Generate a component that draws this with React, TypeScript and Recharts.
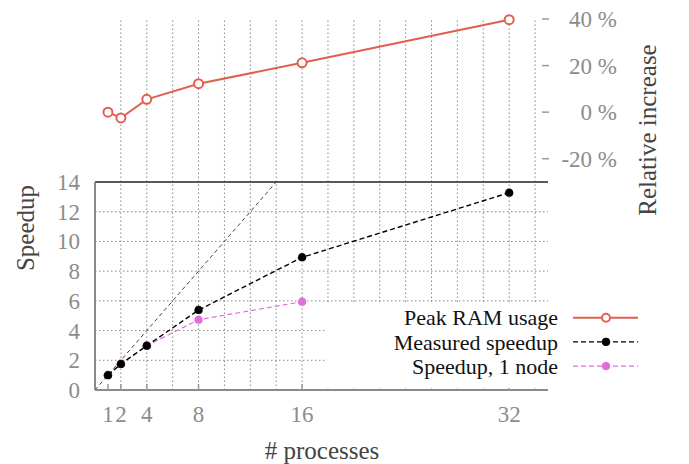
import { Label, Legend, Line, LineChart, ReferenceLine, XAxis, YAxis } from "recharts";

// x positions (# processes)
const procs = [1, 2, 4, 8, 16, 32];
const peakRam = [0, -2.5, 5.5, 12.2, 21.2, 39.7];
const measured = [1.0, 1.75, 2.98, 5.38, 8.93, 13.28];
const oneNodeProcs = [1, 2, 4, 8, 16];
const oneNode = [1.0, 1.75, 2.98, 4.73, 5.94];
const idealX = [0, 14];
const idealY = [0, 14];

const xTicks = [1, 2, 4, 8, 16, 32];
const gridX = [2, 4, 6, 8, 10, 12, 14, 16, 18, 20, 22, 24, 26, 28, 30, 32, 34];
const speedTicks = [0, 2, 4, 6, 8, 10, 12, 14];
const gridY = [2, 4, 6, 8, 10, 12];
const ramTicks = [-20, 0, 20, 40];

const ramData = procs.map((x, i) => ({ x, y: peakRam[i] }));
const measuredData = procs.map((x, i) => ({ x, y: measured[i] }));
const oneNodeData = oneNodeProcs.map((x, i) => ({ x, y: oneNode[i] }));
const idealData = idealX.map((x, i) => ({ x, y: idealY[i] }));

const FONT = "Liberation Serif, Times New Roman, DejaVu Serif, serif";
const RED = "#e0604f";
const PINK = "#e070d8";
const AXIS = "#8a8a8a";
const TICK = "#8c8c8c";

const txt = (size: number, fill: string) => ({ fontFamily: FONT, fontSize: size, fill });

const RightTick = (p: any) => (
  <g>
    <line x1={p.x - 6} x2={p.x + 1} y1={p.y} y2={p.y} stroke="#999" strokeWidth={1.5} />
    <text x={p.x + 69} y={p.y} dy="0.35em" textAnchor="end" style={txt(23, TICK)}>
      {p.payload.value} %
    </text>
  </g>
);

const BottomTick = (p: any) => (
  <g>
    <line x1={p.x} x2={p.x} y1={p.y - 6} y2={p.y} stroke="#999" strokeWidth={1.5} />
    <text x={p.x} y={p.y + 24} dy="0.35em" textAnchor="middle" style={txt(23, TICK)}>
      {p.payload.value}
    </text>
  </g>
);

const LeftTick = (p: any) => (
  <text x={p.x - 15} y={p.y} dy="0.35em" textAnchor="end" style={txt(23, TICK)}>
    {p.payload.value}
  </text>
);

const legendRows = [
  { name: "Peak RAM usage", color: RED, dash: undefined, open: true },
  { name: "Measured speedup", color: "#000", dash: "5 3", open: false },
  { name: "Speedup, 1 node", color: PINK, dash: "5 3", open: false },
];

const LegendBox = () => (
  <div style={{ background: "#fff", width: 320, height: 84 }}>
    <svg width={320} height={84} style={{ overflow: "visible" }}>
      {legendRows.map((r, i) => {
        const y = 13.7 + i * 24.2;
        return (
          <g key={r.name}>
            <text x={231} y={y} dy="0.35em" textAnchor="end" style={txt(22, "#111")}>
              {r.name}
            </text>
            <line x1={246} x2={311} y1={y} y2={y} stroke={r.color} strokeWidth={r.open ? 2 : 1.4} strokeDasharray={r.dash} />
            <circle cx={279} cy={y} r={r.open ? 4 : 3.8} fill={r.open ? "#fff" : r.color} stroke={r.color} strokeWidth={r.open ? 2 : 1} />
          </g>
        );
      })}
    </svg>
  </div>
);

export default function App() {
  return (
    <div style={{ position: "absolute", left: 0, top: 0, width: 689, height: 464, background: "#fff" }}>
      {/* top panel: relative RAM increase */}
      <div style={{ position: "absolute", left: 0, top: 0 }}>
        <LineChart width={689} height={464} margin={{ top: 19, right: 0, bottom: 282, left: 95 }}>
          <XAxis type="number" dataKey="x" domain={[0, 35]} hide />
          <YAxis
            yAxisId="l"
            type="number"
            domain={[-30, 40]}
            width={0}
            tick={false}
            tickLine={false}
            axisLine={{ stroke: AXIS, strokeWidth: 2 }}
          />
          <YAxis
            yAxisId="r"
            orientation="right"
            type="number"
            domain={[-30, 40]}
            ticks={ramTicks}
            interval={0}
            width={141}
            tickSize={0}
            tickMargin={0}
            tickLine={false}
            axisLine={false}
            tick={<RightTick />}
          >
            <Label
              content={() => (
                <text
                  x={647}
                  y={130}
                  transform="rotate(-90, 647, 130)"
                  textAnchor="middle"
                  dy="0.35em"
                  style={txt(25, "#444")}
                >
                  Relative increase
                </text>
              )}
            />
          </YAxis>
          {gridX.map((v) => (
            <ReferenceLine key={v} x={v} yAxisId="r" stroke="#888" strokeWidth={1} strokeDasharray="1.5 2.5" />
          ))}
          <Line
            yAxisId="r"
            data={ramData}
            dataKey="y"
            stroke={RED}
            strokeWidth={2}
            dot={{ r: 4.5, fill: "#fff", stroke: RED, strokeWidth: 2 }}
            isAnimationActive={false}
          />
        </LineChart>
      </div>

      {/* bottom panel: speedup */}
      <div style={{ position: "absolute", left: 0, top: 0 }}>
        <LineChart width={689} height={464} margin={{ top: 182, right: 141, bottom: 0, left: 0 }}>
          <XAxis
            type="number"
            dataKey="x"
            domain={[0, 35]}
            ticks={xTicks}
            interval={0}
            height={74}
            tickSize={0}
            tickMargin={0}
            tickLine={false}
            axisLine={{ stroke: AXIS, strokeWidth: 2 }}
            tick={<BottomTick />}
          >
            <Label
              content={() => (
                <text x={322} y={450} textAnchor="middle" dy="0.35em" style={txt(25, "#444")}>
                  # processes
                </text>
              )}
            />
          </XAxis>
          <YAxis
            type="number"
            domain={[0, 14]}
            ticks={speedTicks}
            interval={0}
            width={95}
            tickSize={0}
            tickMargin={0}
            tickLine={false}
            axisLine={{ stroke: AXIS, strokeWidth: 2 }}
            tick={<LeftTick />}
          >
            <Label
              content={() => (
                <text
                  x={25}
                  y={228}
                  transform="rotate(-90, 25, 228)"
                  textAnchor="middle"
                  dy="0.35em"
                  style={txt(25, "#444")}
                >
                  Speedup
                </text>
              )}
            />
          </YAxis>
          {gridX.map((v) => (
            <ReferenceLine key={"x" + v} x={v} stroke="#888" strokeWidth={1} strokeDasharray="1.5 2.5" />
          ))}
          {gridY.map((v) => (
            <ReferenceLine key={"y" + v} y={v} stroke="#888" strokeWidth={1} strokeDasharray="1.5 2.5" />
          ))}
          <ReferenceLine y={14} stroke="#222" strokeWidth={1.5} />
          <Line
            data={idealData}
            dataKey="y"
            stroke="#444"
            strokeWidth={1}
            strokeDasharray="4 3"
            dot={false}
            isAnimationActive={false}
          />
          <Line
            data={oneNodeData}
            dataKey="y"
            stroke={PINK}
            strokeWidth={1.2}
            strokeDasharray="5 3"
            dot={{ r: 4, fill: PINK, stroke: PINK, strokeWidth: 0.5 }}
            isAnimationActive={false}
          />
          <Line
            data={measuredData}
            dataKey="y"
            stroke="#000"
            strokeWidth={1.4}
            strokeDasharray="5 3"
            dot={{ r: 4, fill: "#000", stroke: "#000", strokeWidth: 0.5 }}
            isAnimationActive={false}
          />
          <Legend
            layout="vertical"
            align="center"
            verticalAlign="middle"
            wrapperStyle={{ left: 327, top: 304, width: 320, height: 84 }}
            content={() => <LegendBox />}
          />
        </LineChart>
      </div>
    </div>
  );
}
